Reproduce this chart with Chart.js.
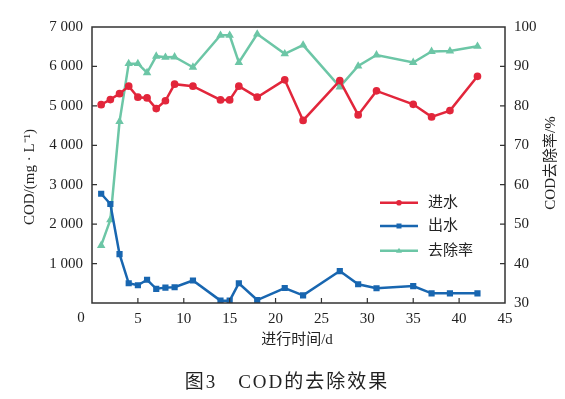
<!DOCTYPE html>
<html>
<head>
<meta charset="utf-8">
<script src="https://cdn.jsdelivr.net/npm/chart.js@4/dist/chart.umd.min.js"></script>
<style>
  html, body { margin: 0; padding: 0; background: #fff; }
  #wrap { width: 565px; height: 399px; }
</style>
</head>
<body>
<div id="wrap"><canvas id="codChart" width="565" height="399"></canvas></div>
<script>
// 数据
const days = [1, 2, 3, 4, 5, 6, 7, 8, 9, 11, 14, 15, 16, 18, 21, 23, 27, 29, 31, 35, 37, 39, 42];
const inflow = [5030, 5160, 5310, 5500, 5220, 5200, 4930, 5130, 5550, 5500, 5150, 5150, 5500, 5220, 5660,
                4630, 5640, 4770, 5380, 5040, 4720, 4880, 5750];
const outflow = [2770, 2510, 1240, 500, 450, 590, 360, 390, 400, 570, 60, 60, 500, 75, 380,
                 195, 810, 475, 375, 430, 245, 245, 245];
const removal = [44.6, 51.1, 76.0, 90.7, 90.7, 88.4, 92.6, 92.3, 92.4, 89.8, 97.9, 97.9, 91.0, 98.2, 93.2,
                 95.4, 84.8, 90.1, 92.9, 91.0, 93.8, 93.9, 95.1];
const seriesNames = ['进水', '出水', '去除率'];
const xTicks = [0, 5, 10, 15, 20, 25, 30, 35, 40, 45];

const RED = '#e2263b';
const BLUE = '#1866b0';
const GREEN = '#6cc6a6';
const FONT = '"Liberation Serif", "Times New Roman", "Noto Sans CJK SC", serif';
const CJK = '"Liberation Serif", "Noto Sans CJK SC", serif';

function pts(vals) {
    return days.map((d, i) => ({ x: d, y: vals[i] }));
}

function fmtThousands(v) {
    if (v === 0) return '';
    const s = String(v);
    return s.length > 3 ? s.slice(0, s.length - 3) + ' ' + s.slice(-3) : s;
}

// 边框、内向刻度、轴标题、图例、图题
const decor = {
    id: 'decor',
    afterDraw(chart) {
        const ctx = chart.ctx;
        const a = chart.chartArea;
        const sx = chart.scales.x, sy = chart.scales.y, sy2 = chart.scales.y2;
        ctx.save();
        ctx.strokeStyle = '#333';
        ctx.lineWidth = 1.5;
        ctx.strokeRect(a.left, a.top, a.right - a.left, a.bottom - a.top);

        ctx.lineWidth = 1.2;
        ctx.beginPath();
        xTicks.slice(1, -1).forEach(v => {
            const px = sx.getPixelForValue(v);
            ctx.moveTo(px, a.bottom); ctx.lineTo(px, a.bottom - 5);
        });
        for (let v = 1000; v <= 6000; v += 1000) {
            const py = sy.getPixelForValue(v);
            ctx.moveTo(a.left, py); ctx.lineTo(a.left + 5, py);
        }
        for (let v = 40; v <= 90; v += 10) {
            const py = sy2.getPixelForValue(v);
            ctx.moveTo(a.right, py); ctx.lineTo(a.right - 5, py);
        }
        ctx.stroke();

        ctx.fillStyle = '#222';
        ctx.font = '15px ' + FONT;
        ctx.textAlign = 'center';
        ctx.textBaseline = 'middle';
        ctx.fillText('0', 81, 318);

        // 轴标题
        ctx.font = '15px ' + CJK;
        ctx.fillText('进行时间/d', 297, 340);

        ctx.save();
        ctx.translate(30, 177);
        ctx.rotate(-Math.PI / 2);
        ctx.fillText('COD/(mg · L⁻¹)', 0, 0);
        ctx.restore();

        ctx.save();
        ctx.translate(551, 163);
        ctx.rotate(-Math.PI / 2);
        ctx.fillText('COD去除率/%', 0, 0);
        ctx.restore();

        // 图例
        const rows = [202.7, 226, 250.7];
        chart.data.datasets.forEach((ds, i) => {
            const y = rows[i];
            ctx.strokeStyle = ds.borderColor;
            ctx.lineWidth = 2.5;
            ctx.beginPath();
            ctx.moveTo(380, y); ctx.lineTo(418, y);
            ctx.stroke();
            ctx.fillStyle = ds.borderColor;
            if (ds.pointStyle === 'rect') {
                ctx.fillRect(396.5, y - 2.5, 5, 5);
            } else if (ds.pointStyle === 'triangle') {
                ctx.beginPath();
                ctx.moveTo(399, y - 3); ctx.lineTo(402, y + 2); ctx.lineTo(396, y + 2);
                ctx.closePath(); ctx.fill();
            } else {
                ctx.beginPath(); ctx.arc(399, y, 2.8, 0, Math.PI * 2); ctx.fill();
            }
            ctx.fillStyle = '#222';
            ctx.font = '15px ' + CJK;
            ctx.textAlign = 'left';
            ctx.fillText(seriesNames[i], 428, y);
        });

        // 图题
        ctx.textAlign = 'center';
        ctx.font = '19px ' + CJK;
        ctx.letterSpacing = '2px';
        ctx.fillText('图3\u3000COD的去除效果', 287, 383);
        ctx.restore();
    }
};

const ctx = document.getElementById('codChart').getContext('2d');
new Chart(ctx, {
    type: 'line',
    data: {
        datasets: [{
            label: seriesNames[0],
            data: pts(inflow),
            yAxisID: 'y',
            borderColor: RED,
            backgroundColor: RED,
            borderWidth: 2.5,
            pointStyle: 'circle',
            pointRadius: 2.6,
            tension: 0
        }, {
            label: seriesNames[1],
            data: pts(outflow),
            yAxisID: 'y',
            borderColor: BLUE,
            backgroundColor: BLUE,
            borderWidth: 2.5,
            pointStyle: 'rect',
            pointRadius: 2.6,
            tension: 0
        }, {
            label: seriesNames[2],
            data: pts(removal),
            yAxisID: 'y2',
            borderColor: GREEN,
            backgroundColor: GREEN,
            borderWidth: 2.5,
            pointStyle: 'triangle',
            pointRadius: 2.4,
            tension: 0
        }]
    },
    options: {
        responsive: false,
        animation: false,
        devicePixelRatio: 1,
        layout: { padding: { top: 27, left: 0, right: 0, bottom: 0 } },
        plugins: { legend: { display: false }, tooltip: { enabled: false } },
        scales: {
            x: {
                type: 'linear',
                min: 0,
                max: 45,
                afterBuildTicks: s => { s.ticks = xTicks.map(v => ({ value: v })); },
                afterFit: s => { s.height = 96; },
                grid: { display: false, drawTicks: false },
                border: { display: false },
                ticks: {
                    padding: 7,
                    color: '#222',
                    font: { family: FONT, size: 15 },
                    callback: v => (v === 0 ? '' : v)
                }
            },
            y: {
                position: 'left',
                min: 0,
                max: 7000,
                afterFit: s => { s.width = 92; },
                grid: { display: false, drawTicks: false },
                border: { display: false },
                ticks: {
                    stepSize: 1000,
                    padding: 9,
                    color: '#222',
                    font: { family: FONT, size: 15 },
                    callback: v => fmtThousands(v)
                }
            },
            y2: {
                position: 'right',
                min: 30,
                max: 100,
                afterFit: s => { s.width = 60; },
                grid: { display: false, drawTicks: false },
                border: { display: false },
                ticks: {
                    stepSize: 10,
                    padding: 9,
                    color: '#222',
                    font: { family: FONT, size: 15 }
                }
            }
        }
    },
    plugins: [decor]
});
</script>
</body>
</html>
